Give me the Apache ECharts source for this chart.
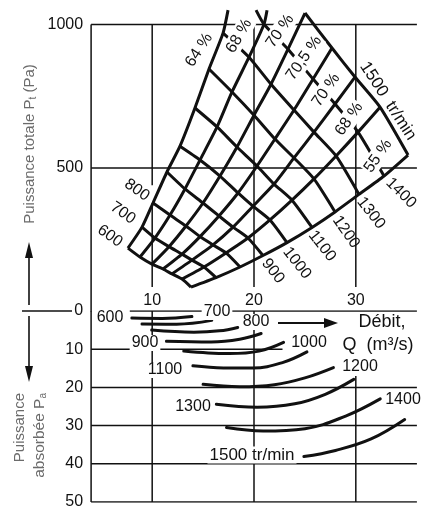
<!DOCTYPE html>
<html>
<head>
<meta charset="utf-8">
<script src="https://cdn.jsdelivr.net/npm/echarts@6/dist/echarts.min.js"></script>
<style>html,body{margin:0;padding:0;background:#fff}#c{width:423px;height:510px}</style>
</head>
<body>
<div id="c"></div>
<script>
// ---- data ----
const speeds = [600, 700, 800, 900, 1000, 1100, 1200, 1300, 1400, 1500];
const efficiencyLabels = ['64 %', '68 %', '70 %', '70,5 %', '70 %', '68 %', '55 %'];
// mesh nodes [Q m3/s, Pt Pa] on each speed curve, one per efficiency line (null = outside the picture)
const n600  = [[7.62,221],[8.80,190],[9.98,165],[11.06,148],[11.94,131],[12.93,113],[13.81,85]];
const n700  = [[9.00,294],[10.27,256],[11.65,226],[12.93,200],[13.91,179],[15.09,155],[16.27,118]];
const n800  = [[10.08,378],[11.75,336],[13.32,298],[14.70,261],[15.97,232],[17.25,204],[18.63,155]];
const n900  = [[11.45,486],[13.22,427],[14.99,378],[16.56,333],[17.94,294],[19.41,256],[20.88,195]];
const n1000 = [[12.73,576],[14.70,528],[16.66,472],[18.43,413],[19.90,367],[21.57,319],[23.24,240]];
const n1100 = [[14.20,709],[16.37,643],[18.33,573],[20.30,507],[21.97,444],[23.73,388],[25.70,293]];
const n1200 = [[15.58,845],[17.84,765],[20.00,684],[22.06,601],[23.93,535],[25.89,462],[27.96,347]];
const n1300 = [[16.96,970],[19.51,886],[21.67,792],[23.93,702],[25.89,625],[28.06,542],[30.31,408]];
const n1400 = [null,[20.98,1001],[23.34,914],[25.80,810],[27.96,723],[30.22,625],[32.77,472]];
const n1500 = [null,null,[25.01,1040],[27.66,918],[29.92,817],[32.38,712],[35.13,545]];
// where lines leave the top of the picture
const cutTop1400 = [20.2, 1050];
const cutTop64 = [17.45, 1050];
const cutTop68 = [21.28, 1050];

// absorbed power curves [Q m3/s, Pa kW]
const pw600  = [[8.0,1.85],[11.0,1.95],[13.9,1.45]];
const pw700  = [[9.0,3.4],[12.4,3.45],[15.85,2.45]];
const pw800  = [[9.95,5.0],[14.1,5.55],[16.6,5.2],[18.4,4.3]];
const pw900  = [[11.4,7.9],[15.8,8.1],[18.6,7.4],[20.7,5.9]];
const pw1000 = [[13.1,10.5],[15.5,11.0],[17.6,11.15],[20.5,10.5],[22.9,8.2]];
const pw1100 = [[14.0,14.35],[17.0,14.9],[19.9,14.95],[22.8,13.5],[25.2,10.7]];
const pw1200 = [[15.0,19.2],[18.6,19.85],[22.0,19.3],[25.0,17.5],[27.8,14.8]];
const pw1300 = [[16.3,24.4],[20.3,25.2],[24.0,24.3],[27.0,21.8],[29.8,17.9]];
const pw1400 = [[17.3,30.5],[20.9,31.4],[25.0,30.8],[29.0,27.5],[32.4,23.0]];
const pw1500 = [[24.9,38.1],[28.0,36.5],[31.5,33.5],[34.8,28.4]];

const qTicks = [10, 20, 30];
const pTicks = [500, 1000];

// ---- drawing ----
const F = '"Liberation Sans", Arial, Helvetica, sans-serif';
const INK = '#111';
const GREY = '#6b6b6b';
const speedNodes = [n600, n700, n800, n900, n1000, n1100, n1200, n1300, n1400, n1500];
const powerCurves = [pw600, pw700, pw800, pw900, pw1000, pw1100, pw1200, pw1300, pw1400, pw1500];

const series = [];
function mesh(d) {
  return {type:'line', xAxisIndex:0, yAxisIndex:0, data:d, symbol:'none', smooth:0.2,
    silent:true, z:3, lineStyle:{color:INK, width:3, cap:'butt', join:'round'}};
}
function gl(ax, d) {
  return {type:'line', xAxisIndex:ax, yAxisIndex:ax, data:d, symbol:'none', silent:true, z:1,
    lineStyle:{color:INK, width:1.5}};
}
speedNodes.forEach((nodes, i) => {
  let d = nodes.filter(Boolean);
  if (speeds[i] === 1400) d = [cutTop1400].concat(d);
  series.push(mesh(d));
});
efficiencyLabels.forEach((lab, j) => {
  const d = speedNodes.map(n => n[j]).filter(Boolean);
  if (j === 0) d.push(cutTop64);
  if (j === 1) d.push(cutTop68);
  series.push(mesh(d));
});
powerCurves.forEach(d => {
  series.push({type:'line', xAxisIndex:1, yAxisIndex:1, data:d, symbol:'none', smooth:0.4,
    silent:true, z:3, lineStyle:{color:INK, width:3, cap:'round'}});
});
// frame / grid lines (top panel)
[[[4,1000],[36,1000]], [[4,500],[36,500]], [[4,0],[4,1000]],
 [[10,1000],[10,440]], [[10,378],[10,85]], [[20,1000],[20,85]], [[30,1000],[30,85]]]
 .forEach(d => series.push(gl(0, d)));
// grid lines (bottom panel)
[[[7.8,0],[36,0]], [[4,10],[22.8,10]], [[4,20],[36,20]], [[4,30],[36,30]], [[4,40],[36,40]], [[4,50],[36,50]],
 [[4,0],[4,50]], [[10,0],[10,50]], [[20,0],[20,50]], [[30,17],[30,50]]]
 .forEach(d => series.push(gl(1, d)));

function T(text, x, y, deg, size, extra) {
  return Object.assign({type:'text', x:x, y:y, rotation:(deg||0)*Math.PI/180, z:100, silent:true,
    style:Object.assign({text:text, fontSize:size||16, fontFamily:F, fill:INK,
      align:'center', verticalAlign:'middle', textAlign:'center', textVerticalAlign:'middle'}, extra||{})});
}
const white = {backgroundColor:'#fff', padding:[0,2]};
const mask = {backgroundColor:'#fff', padding:[1,1]};
const graphics = [
  // efficiency labels (they interrupt the speed curve that runs under them)
  T('64 %', 199, 50, 57, 16, mask), T('68 %', 239, 36, 60, 16, mask), T('70 %', 280, 31, 55, 16, mask),
  T('70,5 %', 304, 58, 55, 16, mask), T('70 %', 326, 90, 55, 16, mask), T('68 %', 349, 119, 55, 16, mask),
  T('55 %', 378, 156, 55, 16, mask),
  T('1500  tr/min', 388, 101, -57, 17),
  // speed labels (top panel)
  T('600', 110, 236, -35, 16), T('700', 123, 213, -35, 16), T('800', 137, 190, -35, 16),
  T('900', 273, 271, -52, 16), T('1000', 297, 263, -52, 16), T('1100', 322, 246, -52, 16),
  T('1200', 346, 232, -55, 16), T('1300', 371, 213, -52, 16), T('1400', 401, 193, -45, 16),
  // speed labels (bottom panel)
  T('600', 110, 318, 0, 16), T('700', 217, 312, 0, 16, white), T('800', 256, 322, 0, 16, white),
  T('900', 145, 343, 0, 16, white), T('1000', 309, 343, 0, 16), T('1100', 165, 370, 0, 16, white),
  T('1200', 360, 367, 0, 16), T('1300', 193, 407, 0, 16), T('1400', 403, 400, 0, 16),
  T('1500 tr/min', 252, 455, 0, 17, white),
  T('Débit,', 382, 322, 0, 18), T('Q  (m³/s)', 378, 345, 0, 18),
  // axis titles
  {type:'text', x:30, y:144, rotation:Math.PI/2, z:100, silent:true,
   style:{text:'Puissance totale P{s|t} (Pa)', fontSize:15, fontFamily:F, fill:GREY,
     align:'center', verticalAlign:'middle', textAlign:'center', textVerticalAlign:'middle',
     rich:{s:{fontSize:10, fontFamily:F, fill:GREY, padding:[6,0,0,0]}}}},
  {type:'text', x:20, y:393, rotation:Math.PI/2, z:100, silent:true,
   style:{text:'Puissance', fontSize:15, fontFamily:F, fill:GREY,
     align:'right', verticalAlign:'middle', textAlign:'right', textVerticalAlign:'middle'}},
  {type:'text', x:40, y:393, rotation:Math.PI/2, z:100, silent:true,
   style:{text:'absorbée P{s|a}', fontSize:15.5, fontFamily:F, fill:GREY,
     align:'right', verticalAlign:'middle', textAlign:'right', textVerticalAlign:'middle',
     rich:{s:{fontSize:10, fontFamily:F, fill:GREY, padding:[6,0,0,0]}}}},
  // arrows
  {type:'line', z:100, silent:true, shape:{x1:29, y1:305, x2:29, y2:256}, style:{stroke:INK, lineWidth:1.6}},
  {type:'polygon', z:100, silent:true, shape:{points:[[29,242],[25,258],[33,258]]}, style:{fill:INK}},
  {type:'line', z:100, silent:true, shape:{x1:29, y1:316, x2:29, y2:368}, style:{stroke:INK, lineWidth:1.6}},
  {type:'polygon', z:100, silent:true, shape:{points:[[29,382],[25,366],[33,366]]}, style:{fill:INK}},
  {type:'line', z:100, silent:true, shape:{x1:22, y1:311, x2:72, y2:311}, style:{stroke:INK, lineWidth:1.6}},
  {type:'line', z:100, silent:true, shape:{x1:278, y1:323, x2:326, y2:323}, style:{stroke:INK, lineWidth:1.8}},
  {type:'polygon', z:100, silent:true, shape:{points:[[338,323],[324,318],[324,328]]}, style:{fill:INK}}
];

const axisText = {fontSize:16, fontFamily:F, color:INK};
const option = {
  animation:false,
  backgroundColor:'#fff',
  grid:[
    {left:91.1, top:10.15, width:325.8, height:301.35},
    {left:91.1, top:311, width:325.8, height:197.5}
  ],
  xAxis:[
    {gridIndex:0, type:'value', min:4, max:36, interval:2, axisLine:{show:false}, axisTick:{show:false}, splitLine:{show:false},
     axisLabel:Object.assign({inside:true, margin:3, formatter:v => qTicks.includes(v) ? String(v) : ''}, axisText)},
    {gridIndex:1, type:'value', min:4, max:36, interval:2, show:false}
  ],
  yAxis:[
    {gridIndex:0, type:'value', min:0, max:1050, interval:500, axisLine:{show:false}, axisTick:{show:false}, splitLine:{show:false},
     axisLabel:Object.assign({margin:8, formatter:v => pTicks.includes(v) ? String(v) : ''}, axisText)},
    {gridIndex:1, type:'value', min:0, max:50, interval:10, inverse:true, axisLine:{show:false}, axisTick:{show:false}, splitLine:{show:false},
     axisLabel:Object.assign({margin:8}, axisText)}
  ],
  series:series,
  graphic:graphics
};
const chart = echarts.init(document.getElementById('c'));
chart.setOption(option);
</script>
</body>
</html>
